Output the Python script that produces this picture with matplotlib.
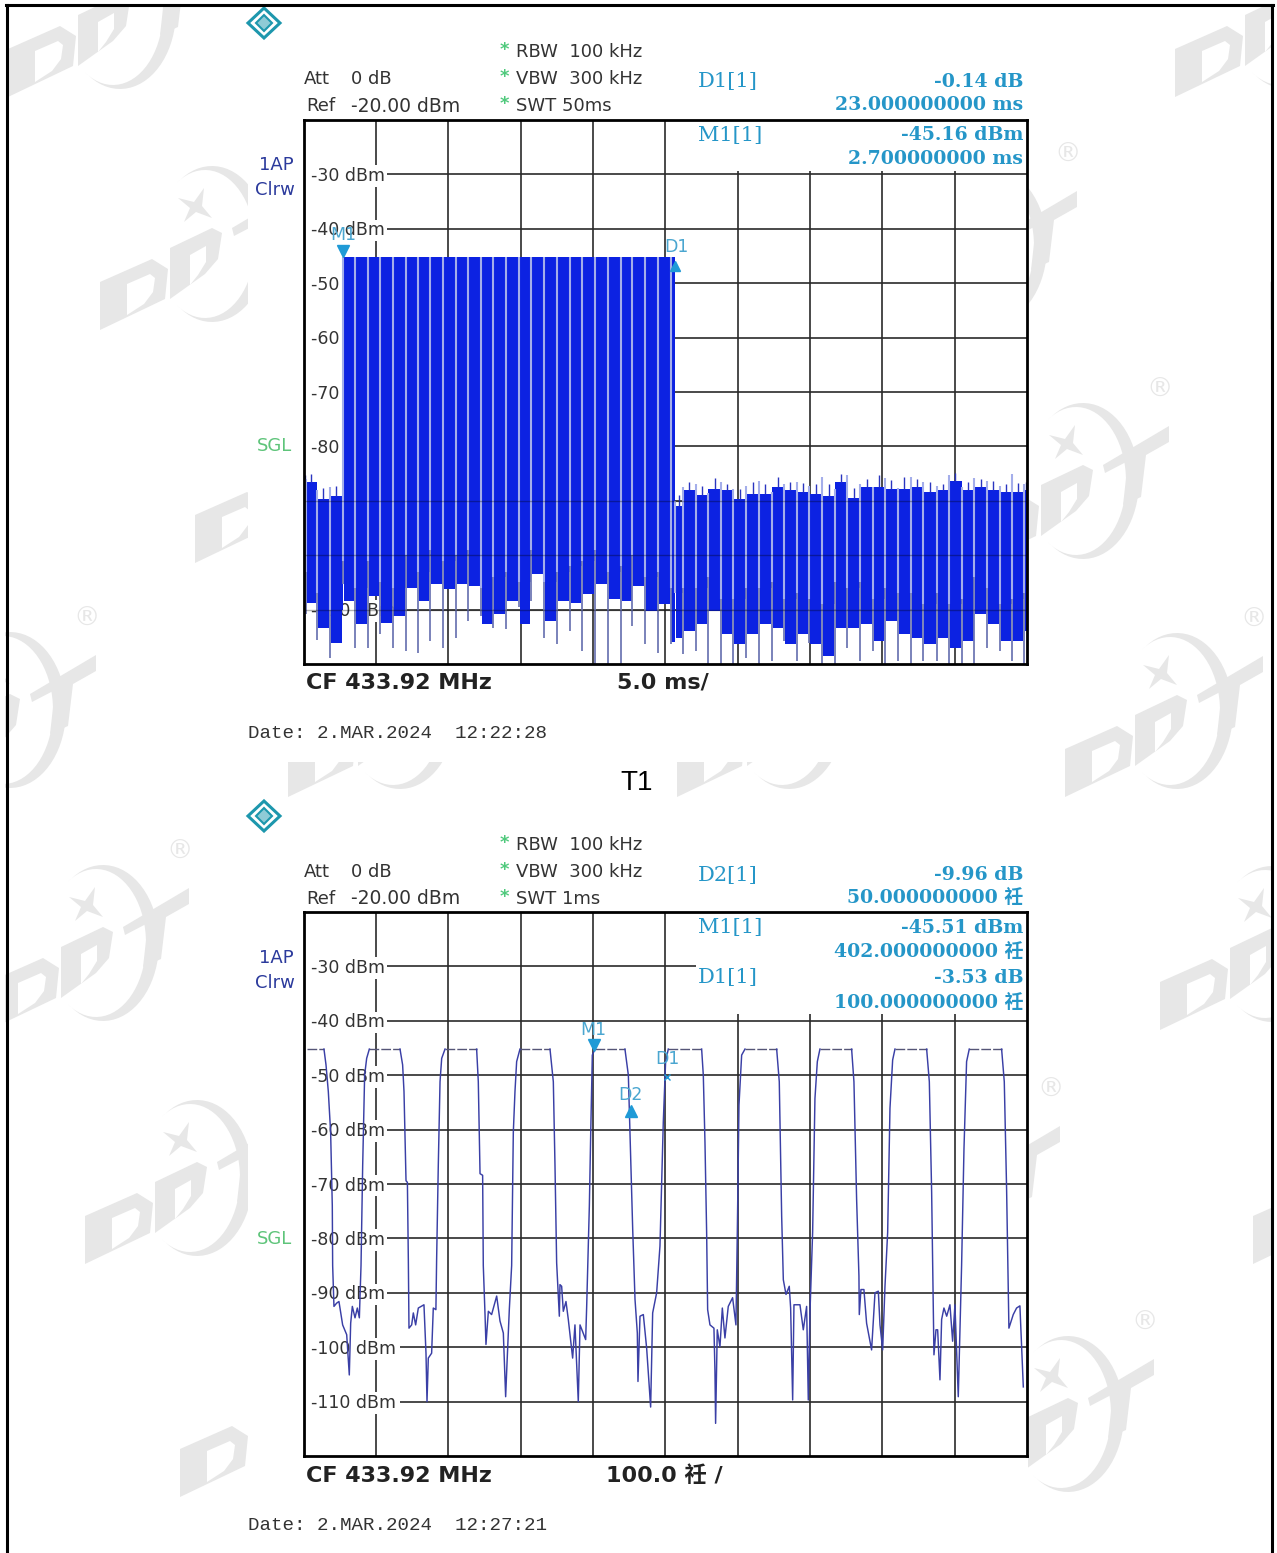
import numpy as np
import matplotlib
matplotlib.use("Agg")
import matplotlib.pyplot as plt
from matplotlib.patches import Polygon, Rectangle

W, H = 1277, 1553

# T1 sweep, 0-50 ms
gap_times = [0.17, 0.91, 1.83, 2.71, 3.56, 4.44, 5.29, 6.19, 7.06, 7.91, 8.76, 9.64, 10.51, 11.36, 12.24,
             13.13, 14.01, 14.91, 15.72, 16.64, 17.54, 18.42, 19.27, 20.15, 21.02, 21.94, 22.73, 23.6, 24.52,
             25.4, 25.68, 26.2, 27.1, 27.98, 28.86, 29.71, 30.58, 31.48, 32.36, 33.21, 34.09, 34.96, 35.86,
             36.74, 37.59, 38.46, 39.39, 40.19, 41.07, 41.99, 42.84, 43.76, 44.62, 45.49, 46.37, 47.22, 48.14,
             48.95, 49.82]
gap_tops = [-86, -88, -87.5] + [-45.2] * 27 + [-90] + [
    -87.5, -86.9, -88.6, -86.6, -87.8, -87.2, -86.3, -88.3, -86.9, -86.6, -87.3, -85.6, -87.8, -85.2,
    -86.9, -87.5, -85.9, -87.7, -85.6, -86.6, -87.2, -85.3, -87.5, -85.9, -86.3, -87.3, -85.1, -86.9]
gap_bottoms = [-110.9, -115.5, -118.9, -105.3, -117, -117, -114.5, -117, -117.6, -117.9, -115.8, -117, -115.2,
               -112.1, -111.2, -113.3, -113.6, -109.6, -108.4, -115.2,
               -116.4, -113.9, -117.6, -120, -120, -120, -113, -116.4, -117.9, -116.4, -90, -118.2, -117.6,
               -120, -120, -120, -118.9, -120, -119.5, -115.8,
               -119.5, -116.1, -120, -120, -117, -119.5, -117.6, -120, -119.5, -120, -119.5, -119.5, -120,
               -120, -120, -117, -117.6, -119.5, -120]
bar_tops = [-86, -86.6, -89.7, -89.1] + [-45.2] * 27 + [
    -90.9, -88.1, -89, -87.8, -88.1, -89.7, -88.8, -88.8, -87.5, -88.1, -88.4, -88.8, -89.1, -86.6, -89.4,
    -87.5, -87.5, -87.8, -87.8, -87.5, -88.4, -88.1, -86.3, -88.1, -87.5, -88.1, -88.4, -88.4, -88]
bar_peaks = [-85.2, -85, -87.6, -87.2] + [-45.2] * 27 + [
    -89, -86.6, -87.2, -85.9, -86.9, -87.8, -86.5, -87, -85.6, -86.5, -86.8, -86.9, -86.9, -85, -87.6,
    -86, -85.3, -86.1, -85.7, -86, -86.6, -86.9, -84.9, -86.6, -86, -86.4, -86.9, -86.8, -86.5]
bar_shoulders = [-98, -103, -107, -110, -101, -106, -101, -105, -106, -100, -103, -99, -101,
                 -100, -99, -106, -104, -103, -105, -99,
                 -105, -103, -102, -101, -99, -103, -102, -100, -104, -103, -106,
                 -107, -106, -106, -104, -108, -108, -106, -106, -105, -108,
                 -107, -108, -109, -105, -106, -105, -108, -106, -107, -107, -109, -107,
                 -109, -108, -104, -106, -109, -108, -107]
bar_bottoms = [-104, -108.7, -113.3, -116.1, -108.4, -112.7, -107.5, -112.4, -111.2, -106, -108.4, -105.3, -106.3,
               -105.3, -105.6, -112.7, -110.9, -108.4, -112.7, -103.5,
               -112.1, -108.4, -108.7, -107.2, -105.3, -108.1, -108.4, -105.6, -110.2, -109, -116,
               -115.2, -113.9, -112.7, -110.2, -114.5, -116.4, -114.5, -112.7, -113.3, -116.4,
               -114.5, -116.4, -118.5, -113.3, -113.3, -112.7, -115.8, -112.1, -114.5, -115.2, -116.4, -115.2,
               -117, -115.8, -110.9, -112.7, -115.8, -115.8, -114]

# T2 sweep, 0-1000 us, falling and rising edges of each pulse (nan = flat top drawn dashed)
t2_us = [28.3, 31.1, 34.3, 37.5, 39.8, 40.3, 42.1, 45.8, 49, 54.1, 59.7, 63.3, 65.2, 67.5, 71.2, 74.4, 77.2, 79.5,
         81.8, 84.5, 87.3, 91, np.nan,
         133.4, 137, 138.9, 141.7, 143.6, 144.9, 145.8, 149.5, 151.8, 155, 158.7, 166.5, 169.3, 170.7, 172.5, 177.1,
         179.4, 183, 184, 186.3, 188.7, 191, 195.6, np.nan,
         239.3, 241.6, 244, 247.6, 248.5, 250.9, 252.2, 255.5, 260, 267, 271.6, 276.2, 279.4, 280.8, 284.5, 287.7,
         290, 292.3, 294.6, 299.2, np.nan,
         340.7, 345.3, 347.6, 349.9, 353.6, 354.5, 356.8, 359.1, 362.8, 366, 372, 375.2, 379.8, 382.2, 390, 391.4,
         395.1, 397, 399.2, 402.9, np.nan,
         444.3, 449, 452.2, 455, 458.2, 461.4, 462.3, 465.1, 469.7, 474.3, 479.8, 482.6, 488.1, 492.7, 497.3, 500.5,
         504.2, np.nan,
         550.3, 552.6, 554.9, 557.2, 558.6, 561.8, 567.3, 568.7, 569.6, 571.9, 575.6, 578.9, 582.5, 587.1, 593.1,
         597.7, 599.6, 601.9, 605.6, 610.2, np.nan,
         654, 657.6, 660.9, 663.2, 666.9, 671.4, 673.3, 676.1, 677.9, 686.2, 690.8, 695.4, 697.7, 700, 703.7, 706.9,
         710.2, 713.8, np.nan,
         757.6, 760.8, 764.5, 767.7, 768.2, 770.5, 774.6, 778.3, 785.2, 789.9, 794.5, 796.8, 800.5, 803.7, 807.4,
         810.6, 814.3, 817.5, np.nan,
         861.3, 865, 868.2, 871.4, 874.2, 876.5, 879.7, 882, 885.2, 889, 893.5, 897.2, 900.4, 905, 909.6, 912.9,
         916.5, 920.2, np.nan,
         964.9, 968.6, 971.8, 975, 981, 985.6, 990.2, 994.9]
t2_dbm = [-45.2, -48.1, -53, -60.5, -74, -85, -92.5, -91.9, -91.6, -95.9, -97.7, -105.1, -95.6, -92.5, -94.6, -92.8,
          -94.6, -85, -66.6, -50, -46.9, -45.2, np.nan,
          -45.2, -48.1, -53, -69.4, -69.7, -83.9, -96.5, -95.9, -93.7, -95.9, -92.8, -92.2, -101.1, -110, -102, -101.1,
          -92.8, -93.1, -83.9, -66.6, -51.2, -46.9, -45.2, np.nan,
          -45.2, -51.2, -68.1, -68.4, -85, -94, -99.5, -93.4, -94, -90.6, -95.2, -97.4, -109.1, -104.5, -93, -85,
          -60.5, -53, -47.5, -45.2, np.nan,
          -45.2, -51.2, -66.6, -84.5, -94.3, -88.5, -88.8, -93.4, -91.6, -94.9, -102, -95.9, -110, -95.9, -98.6, -92.5,
          -74, -60.5, -46.3, -45.2, np.nan,
          -45.2, -50, -65.4, -78.3, -91.2, -97.4, -106.3, -94.3, -94, -100.2, -111, -93.7, -90, -81.4, -58.6, -47.5,
          -45.2, np.nan,
          -45.2, -50, -62.3, -78.9, -93.1, -95.9, -96.5, -104.4, -114, -96.8, -99.9, -92.8, -98.3, -92.5, -90.9,
          -95.9, -78.9, -55.5, -46.3, -45.2, np.nan,
          -45.2, -51.2, -75.9, -87.6, -90.3, -88.8, -92.8, -109.7, -92.2, -92.2, -96.8, -92.5, -109.7, -93.7, -78.9,
          -54.3, -47.5, -45.2, np.nan,
          -45.2, -51.2, -72.8, -86.9, -94, -89.4, -89.4, -95.6, -100.5, -90, -89.7, -95.9, -100.5, -88.8, -78.9,
          -56.1, -47.2, -45.2, np.nan,
          -45.2, -51.2, -71.5, -101.4, -96.8, -96.8, -106, -94.9, -92.8, -94.3, -92.2, -98.9, -92.2, -109.1, -85,
          -63.5, -47.5, -45.2, np.nan,
          -45.2, -51.2, -70.9, -96.5, -94, -92.8, -92.4, -107.3]
top_starts = [4.4, 91, 195.6, 299.2, 402.9, 504.2, 610.2, 713.8, 817.5, 920.2]
top_ends = [28.3, 133.4, 239.3, 340.7, 444.3, 550.3, 654, 757.6, 861.3, 964.9]
top_levels = [-45.2, -45.2, -45.2, -45.2, -45.2, -45.2, -45.2, -45.2, -45.2, -45.2]

levels = [-30, -40, -50, -60, -70, -80, -90, -100, -110]
labels_t1 = [-30, -40, -50, -60, -70, -80, -110]
labels_t2 = levels
grid_t1 = [5, 10, 15, 20, 25, 30, 35, 40, 45]
grid_t2 = [100, 200, 300, 400, 500, 600, 700, 800, 900]

plt.rcParams['font.family'] = ['DejaVu Sans', 'Noto Sans CJK SC']
MS = 'Noto Sans CJK SC'
TEAL = '#2596c8'
GRAY_WM = '#e7e7e7'
DARK = '#333333'

fig = plt.figure(figsize=(W / 100, H / 100), dpi=100, facecolor='white')


def px_axes(zorder):
    a = fig.add_axes([0, 0, 1, 1], zorder=zorder)
    a.set_xlim(0, W)
    a.set_ylim(H, 0)
    a.axis('off')
    a.patch.set_alpha(0)
    return a


bg = px_axes(0)
fg = px_axes(5)


# watermark logo, placed by the lower left corner of its first letter
def logo(ox, oy):
    d1 = [(0, 0), (0, -48), (52, -71), (68, -61), (65, -31)]
    d1_hole = [(27, -15), (27, -46), (50, -56), (55, -52), (53, -38), (44, -26)]
    d2 = [(70, -31), (70, -82), (112, -102), (122, -97), (118, -71), (105, -56)]
    d2_hole = [(90, -45), (90, -75), (106, -84), (106, -68), (98, -55)]
    t = [(132, -102), (198, -141), (198, -125), (175, -112), (170, -70), (152, -62), (157, -106), (134, -94)]
    star = [(78, -132), (94, -128), (104, -142), (102, -124), (112, -112), (96, -118), (84, -108), (90, -122)]
    # crescent ring round the letters
    a = np.radians(np.linspace(-125, 125, 50))
    outer = np.c_[112 + 56 * np.cos(a), -86 + 78 * np.sin(a)]
    inner = np.c_[105 + 50 * np.cos(a[::-1]), -86 + 74 * np.sin(a[::-1])]
    bg.add_patch(Polygon(np.r_[outer, inner] + (ox, oy), color=GRAY_WM, lw=0))
    for p in (d1, d2, t, star):
        bg.add_patch(Polygon([(ox + x, oy + y) for x, y in p], color=GRAY_WM, lw=0))
    for p in (d1_hole, d2_hole):
        bg.add_patch(Polygon([(ox + x, oy + y) for x, y in p], color='white', lw=0))
    if 0 < ox + 189 < W and 0 < oy - 177 < H - 5:
        bg.text(ox + 189, oy - 177, '\u00ae', color=GRAY_WM, fontsize=19, ha='center', va='center')


logo_places = [(8, 97), (-102, 796), (100, 330), (195, 563), (-9, 1029), (85, 1264), (180, 1497),
               (879, 332), (971, 567), (1065, 797), (862, 1267), (956, 1500), (1175, 97), (1270, 330),
               (1160, 1030), (1253, 1264), (288, 797), (677, 797), (-119, 1725), (1051, 1725)]
for lx, ly in logo_places:
    logo(lx, ly)

# white page behind both captures
bg.add_patch(Rectangle((248, 6), 780, 756, color='white', lw=0, zorder=3))
bg.add_patch(Rectangle((248, 798), 780, 760, color='white', lw=0, zorder=3))
bg.add_patch(Rectangle((0, 0), W, 5, color='white', lw=0, zorder=3))
bg.add_patch(Rectangle((0, 0), 5, H, color='white', lw=0, zorder=3))
bg.add_patch(Rectangle((1274, 0), 4, H, color='white', lw=0, zorder=3))
# page frame
fg.plot([6.5, 6.5], [5, H], color='black', lw=2.2)
fg.plot([1272, 1272], [5, H], color='black', lw=2.2)
fg.plot([6, 1273], [5, 5], color='black', lw=2.2)


def scope_axes(top, xmax):
    a = fig.add_axes([303.5 / W, 1 - (top + 544) / H, 723.5 / W, 544 / H], zorder=2)
    a.set_xlim(0, xmax)
    a.set_ylim(-120, -20)
    a.set_xticks([])
    a.set_yticks([])
    for s in a.spines.values():
        s.set_linewidth(2)
        s.set_zorder(9)
    return a


def scope_grid(a, shown, grid, xmax, split, box_bottom, line30_end):
    for v in levels:
        x0 = (400 if v <= -100 else 387) - 303.5
        x1 = line30_end if v == -30 else xmax
        a.hlines(v, x0 / 723.5 * xmax, x1, color='#2a2a2a', lw=1.2, zorder=1)
    for v in shown:
        a.text(0.011 * xmax, v - 0.3, '%d dBm' % v, fontsize=12.5, color=DARK, ha='left', va='center', zorder=2,
               bbox=dict(facecolor='white', edgecolor='none', pad=1.2))
    for g in grid:
        top = box_bottom if g >= split else -20
        a.vlines(g, -120, top, color='#2a2a2a', lw=1.2, zorder=1)


ax1 = scope_axes(120, 50)
scope_grid(ax1, labels_t1, grid_t1, 50, 30, -29.4, 50)

edges = np.array([0] + gap_times + [50])
lefts, widths = edges[:-1], np.diff(edges)
tops, peaks = np.array(bar_tops), np.array(bar_peaks)
shoulders, bottoms = np.array(bar_shoulders), np.array(bar_bottoms)
ax1.bar(lefts, tops - shoulders, width=widths, bottom=shoulders, align='edge', color='#0c22e2', lw=0, zorder=3)
ax1.bar(lefts + widths / 2, shoulders - bottoms, width=widths * 0.85, bottom=bottoms, color='#0c22e2', lw=0, zorder=3)
ax1.vlines(lefts + widths / 2, tops, peaks, color='#2a35c0', lw=1, zorder=3)
gap_mid = np.minimum(bar_shoulders[1:], gap_tops)
ax1.vlines(gap_times, gap_bottoms, gap_mid, color='#6f78b4', lw=1.3, zorder=4)
ax1.vlines(gap_times, gap_mid, gap_tops, color='#a4aeea', lw=1.5, zorder=4)
# grid shows faintly through the trace
ax1.hlines([-90, -100, -110], 0, 50, color='black', alpha=0.3, lw=1, zorder=5)
ax1.plot(2.7, -44.1, 'v', color='#1f9ad6', ms=8, zorder=6)
ax1.plot(25.7, -46.8, '^', color='#1f9ad6', ms=7, zorder=6)

ax2 = scope_axes(912, 1000)
scope_grid(ax2, labels_t2, grid_t2, 1000, 600, -38.7, 543)
ax2.hlines(top_levels, top_starts, top_ends, color='#555577', lw=1, linestyles=(0, (7, 1.5)), zorder=3)
ax2.plot(t2_us, t2_dbm, color='#3a3fa6', lw=1.05, zorder=3)
ax2.plot(402, -44.4, 'v', color='#1f9ad6', ms=8, zorder=6)
ax2.plot(452, -56.6, '^', color='#1f9ad6', ms=8, zorder=6)
ax2.plot(502, -50.3, 'x', color='#1f9ad6', ms=5, zorder=6)


def header(y0, swt, span, right_rows):
    # Rohde & Schwarz emblem
    cx, cy = 264, y0 + 23
    fg.add_patch(Polygon([(cx - 16, cy), (cx, cy - 15), (cx + 16, cy), (cx, cy + 15)], fc='white', ec='#1d97ad', lw=2.2))
    fg.add_patch(Polygon([(cx - 8, cy), (cx, cy - 8), (cx + 8, cy), (cx, cy + 8)], fc='#8fcbd6', ec='#1d97ad', lw=1.5))
    for y, s in zip((50, 77, 104), ('RBW  100 kHz', 'VBW  300 kHz', swt)):
        fg.text(500, y0 + y, '*', color='#4fc97c', fontsize=13, fontweight='bold', ha='left', va='center')
        fg.text(516, y0 + y + 2, s, color=DARK, fontsize=13, ha='left', va='center')
    fg.text(304, y0 + 79, 'Att', color=DARK, fontsize=13, ha='left', va='center')
    fg.text(351, y0 + 79, '0 dB', color=DARK, fontsize=13, ha='left', va='center')
    fg.text(306, y0 + 106, 'Ref', color=DARK, fontsize=13, ha='left', va='center')
    fg.text(351, y0 + 106, '-20.00 dBm', color=DARK, fontsize=13.5, ha='left', va='center')
    fg.text(276, y0 + 165, '1AP', color='#2b3a9c', fontsize=13, ha='center', va='center')
    fg.text(275, y0 + 190, 'Clrw', color='#2b3a9c', fontsize=13, ha='center', va='center')
    fg.text(275, y0 + 446, 'SGL', color='#5ec47a', fontsize=13, ha='center', va='center')
    fg.text(306, y0 + 683, 'CF 433.92 MHz', color='#222222', fontsize=16, fontweight='bold', ha='left', va='center')
    fg.text(span[0], y0 + 683, span[1], color='#222222', fontsize=16, fontweight='bold', ha='left', va='center',
            family=['DejaVu Sans', MS])
    for label, y, value, y2, value2 in right_rows:
        fg.text(698, y0 + y, label, color=TEAL, fontsize=15, family='DejaVu Serif', ha='left', va='center')
        fg.text(1023, y0 + y, value, color=TEAL, fontsize=13.6, fontweight='bold', family='DejaVu Serif',
                ha='right', va='center')
        fg.text(1023, y0 + y2, value2, color=TEAL, fontsize=13.6, fontweight='bold',
                family=['DejaVu Serif', MS], ha='right', va='center')


header(0, 'SWT 50ms', (617, '5.0 ms/'),
       [('D1[1]', 82, '-0.14 dB', 105, '23.000000000 ms'),
        ('M1[1]', 135, '-45.16 dBm', 159, '2.700000000 ms')])
header(793, 'SWT 1ms', (606, '100.0 祍 /'),
       [('D2[1]', 82, '-9.96 dB', 105, '50.000000000 祍'),
        ('M1[1]', 135, '-45.51 dBm', 159, '402.000000000 祍'),
        ('D1[1]', 185, '-3.53 dB', 210, '100.000000000 祍')])

fg.text(248, 733, 'Date: 2.MAR.2024  12:22:28', family='Liberation Mono', fontsize=13.8, color=DARK, va='center')
fg.text(248, 1526, 'Date: 2.MAR.2024  12:27:21', family='Liberation Mono', fontsize=13.8, color=DARK, va='center')
fg.text(637, 783, 'T1', family='Liberation Sans', fontsize=20, color='black', ha='center', va='center')

for x, y, s in [(343, 235, 'M1'), (676, 247, 'D1'), (593, 1030, 'M1'), (630, 1095, 'D2'), (667, 1059, 'D1')]:
    fg.text(x, y, s, color='#4aa6d0', fontsize=12.5, ha='center', va='center')

fig.savefig('out.png', dpi=100)
